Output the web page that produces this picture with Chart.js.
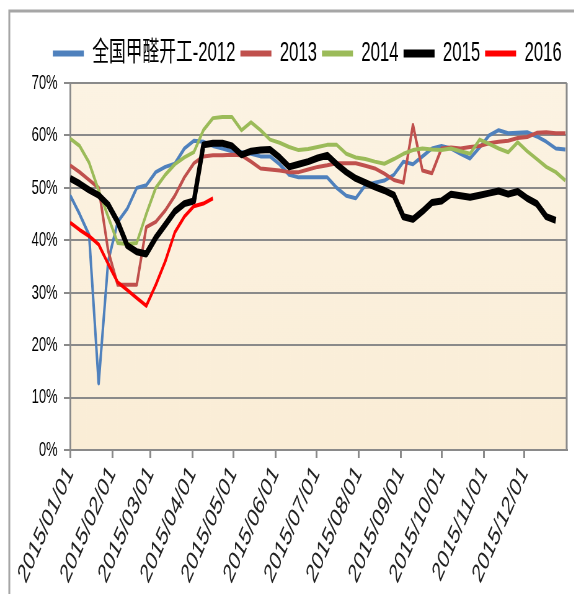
<!DOCTYPE html>
<html>
<head>
<meta charset="utf-8">
<script src="https://cdn.jsdelivr.net/npm/chart.js@4.4.0/dist/chart.umd.min.js"></script>
<style>
  html, body { margin: 0; padding: 0; background: #fff; overflow: hidden; }
  #wrap { width: 574px; height: 594px; overflow: hidden; position: relative; }
  /* the reference is squeezed sideways, so the chart is drawn wide and then narrowed */
  #chart { position: absolute; left: 0; top: 0; transform: scaleX(0.62); transform-origin: 0 0; }
</style>
</head>
<body>
<div id="wrap"><canvas id="chart" width="926" height="594"></canvas></div>
<script>
// weeks of the year, as day offsets from 2015/01/01
const weekDays = [0, 7, 14, 21, 28, 35, 42, 49, 56, 63, 70, 77, 84, 91, 98, 105, 112, 119,
  126, 133, 140, 147, 154, 161, 168, 175, 182, 189, 196, 203, 210, 217, 224, 231, 238,
  245, 252, 259, 266, 273, 280, 287, 294, 301, 308, 315, 322, 329, 336, 343, 350, 357, 364];

// month ticks on the x axis
const monthDays = [0, 31, 59, 90, 120, 151, 181, 212, 243, 273, 304, 334];
const monthLabels = ["2015/01/01", "2015/02/01", "2015/03/01", "2015/04/01", "2015/05/01",
  "2015/06/01", "2015/07/01", "2015/08/01", "2015/09/01", "2015/10/01", "2015/11/01", "2015/12/01"];

// 开工率 (%)
const s2012 = [48.6, 45, 41, 12.7, 36, 43.5, 46, 50, 50.5, 53, 54, 54.6, 57.5, 59, 58.8, 58, 57.5,
  57, 56.8, 56.5, 56, 56, 54.5, 52.5, 52, 52, 52, 52, 50, 48.5, 48, 50.5, 51, 51.4, 52.5, 55,
  54.5, 56, 57.5, 58, 57.5, 56.5, 55.6, 57.7, 60, 61, 60.4, 60.5, 60.6, 59.8, 58.8, 57.5, 57.3];
const s2013 = [54.3, 53, 51.5, 50, 38, 31.5, 31.5, 31.5, 42.5, 43.5, 45.7, 48.5, 52, 54.7, 56,
  56.2, 56.2, 56.3, 56.2, 55, 53.7, 53.5, 53.3, 53, 53, 53.5, 54, 54.3, 54.7, 54.7, 54.7, 54.2,
  53.7, 52.7, 51.5, 51, 62, 53.3, 52.8, 57.5, 57.7, 57.5, 57.8, 58, 58.5, 58.8, 59, 59.5, 59.7,
  60.5, 60.6, 60.4, 60.4];
const s2014 = [59.4, 58, 54.8, 49.5, 44.5, 39.5, 39.3, 39.5, 45, 50, 52.5, 54.5, 55.8, 56.8, 61,
  63.3, 63.5, 63.5, 61, 62.5, 61, 59.2, 58.6, 57.8, 57.2, 57.4, 57.8, 58.2, 58.2, 56.5, 55.8,
  55.5, 55, 54.6, 55.5, 56.5, 57.2, 57.5, 57.3, 57.2, 57.5, 57, 56.5, 59.2, 58.4, 57.5, 56.8,
  58.7, 57, 55.5, 54, 53, 51.4];
const s2015 = [51.8, 50.8, 49.6, 48.6, 46.8, 43.5, 39, 37.8, 37.4, 40.5, 43, 45.5, 47, 47.5,
  58.2, 58.5, 58.5, 58, 56.3, 57, 57.2, 57.3, 55.8, 54, 54.5, 55, 55.7, 56.2, 54.5, 53, 51.8,
  51, 50.2, 49.5, 48.6, 44.5, 44, 45.5, 47.2, 47.5, 48.8, 48.5, 48.2, 48.6, 49, 49.4, 48.8,
  49.3, 48, 47, 44.5, 43.8];
const s2016 = [43.4, 42, 40.8, 39.2, 35.5, 32, 30.5, 29, 27.5, 31.5, 36, 41.5, 44.5, 46.5, 47, 48];

const FONT = "'Liberation Sans', 'Noto Sans CJK SC', sans-serif";
const GRID = "#8a8a8a";

function toPoints(values) {
  return values.map((v, i) => ({ x: weekDays[i], y: v }));
}

function line(label, values, color, width, order) {
  return {
    label: label,
    data: toPoints(values),
    borderColor: color,
    backgroundColor: color,
    borderWidth: width,
    borderJoinStyle: "round",
    pointRadius: 0,
    tension: 0,
    order: order,
  };
}

// fond crème de la zone de tracé + cadre extérieur
const frame = {
  id: "frame",
  beforeDraw(chart) {
    const { ctx, chartArea: a } = chart;
    ctx.save();
    ctx.fillStyle = "#fff";
    ctx.fillRect(0, 0, chart.width, chart.height);
    ctx.strokeStyle = "#a6a6a6";
    ctx.lineWidth = 3;
    ctx.beginPath();
    ctx.moveTo(15, chart.height);
    ctx.lineTo(15, 11);
    ctx.lineTo(chart.width, 11);
    ctx.stroke();
    const g = ctx.createLinearGradient(0, a.top, 0, a.bottom);
    g.addColorStop(0, "#FCF3E3");
    g.addColorStop(1, "#FAEDD6");
    ctx.fillStyle = g;
    ctx.fillRect(a.left, a.top, a.right - a.left, a.bottom - a.top);
    ctx.restore();
  },
  beforeDatasetsDraw(chart) {
    const { ctx, chartArea: a } = chart;
    ctx.save();
    ctx.strokeStyle = GRID;
    ctx.lineWidth = 3;
    ctx.beginPath();
    ctx.moveTo(a.right, a.top);
    ctx.lineTo(a.right, a.bottom);
    ctx.stroke();
    ctx.restore();
  },
};

Chart.defaults.font.family = FONT;
Chart.defaults.color = "#000";

new Chart(document.getElementById("chart"), {
  type: "line",
  data: {
    datasets: [
      line("全国甲醛开工-2012", s2012, "#4F81BD", 4, 5),
      line("2013", s2013, "#C0504D", 4, 4),
      line("2014", s2014, "#9BBB59", 4, 3),
      line("2015", s2015, "#000000", 7, 2),
      line("2016", s2016, "#FF0000", 4, 1),
    ],
  },
  options: {
    responsive: false,
    animation: false,
    devicePixelRatio: 1,
    layout: { padding: { top: 32, right: 12, left: 0, bottom: 0 } },
    plugins: {
      tooltip: { enabled: false },
      legend: {
        position: "top",
        align: "end",
        labels: {
          font: { size: 27 },
          usePointStyle: true,
          pointStyle: "line",
          pointStyleWidth: 50,
          padding: 8,
          sort: (a, b) => a.datasetIndex - b.datasetIndex,
          generateLabels: (chart) =>
            Chart.defaults.plugins.legend.labels.generateLabels(chart).map((item) => {
              item.lineWidth = item.datasetIndex === 3 ? 8 : 6;
              return item;
            }),
        },
      },
    },
    scales: {
      x: {
        type: "linear",
        min: 0,
        max: 365,
        afterBuildTicks: (scale) => {
          scale.ticks = monthDays.map((d) => ({ value: d }));
        },
        afterFit: (scale) => {
          scale.height = 144;
        },
        ticks: {
          autoSkip: false,
          minRotation: 55,
          maxRotation: 55,
          padding: 2,
          color: "#222",
          font: { size: 27 },
          callback: (v) => monthLabels[monthDays.indexOf(v)],
        },
        grid: { drawOnChartArea: false, drawTicks: true, tickLength: 8, color: GRID, lineWidth: 3 },
        border: { display: true, color: GRID, width: 2 },
      },
      // empty axis used only as a gap between the legend and the plot
      gap: {
        type: "linear",
        position: "top",
        axis: "x",
        ticks: { display: false },
        grid: { display: false },
        border: { display: false },
        afterFit: (scale) => {
          scale.height = 6;
        },
      },
      y: {
        min: 0,
        max: 70,
        afterBuildTicks: (scale) => {
          scale.ticks = [0, 10, 20, 30, 40, 50, 60, 70].map((v) => ({ value: v }));
        },
        afterFit: (scale) => {
          scale.width = 113;
        },
        ticks: {
          padding: 10,
          font: { size: 21 },
          callback: (v) => v + "%",
        },
        grid: { color: GRID, lineWidth: 2, tickLength: 10 },
        border: { display: true, color: GRID, width: 3 },
      },
    },
  },
  plugins: [frame],
});
</script>
</body>
</html>
